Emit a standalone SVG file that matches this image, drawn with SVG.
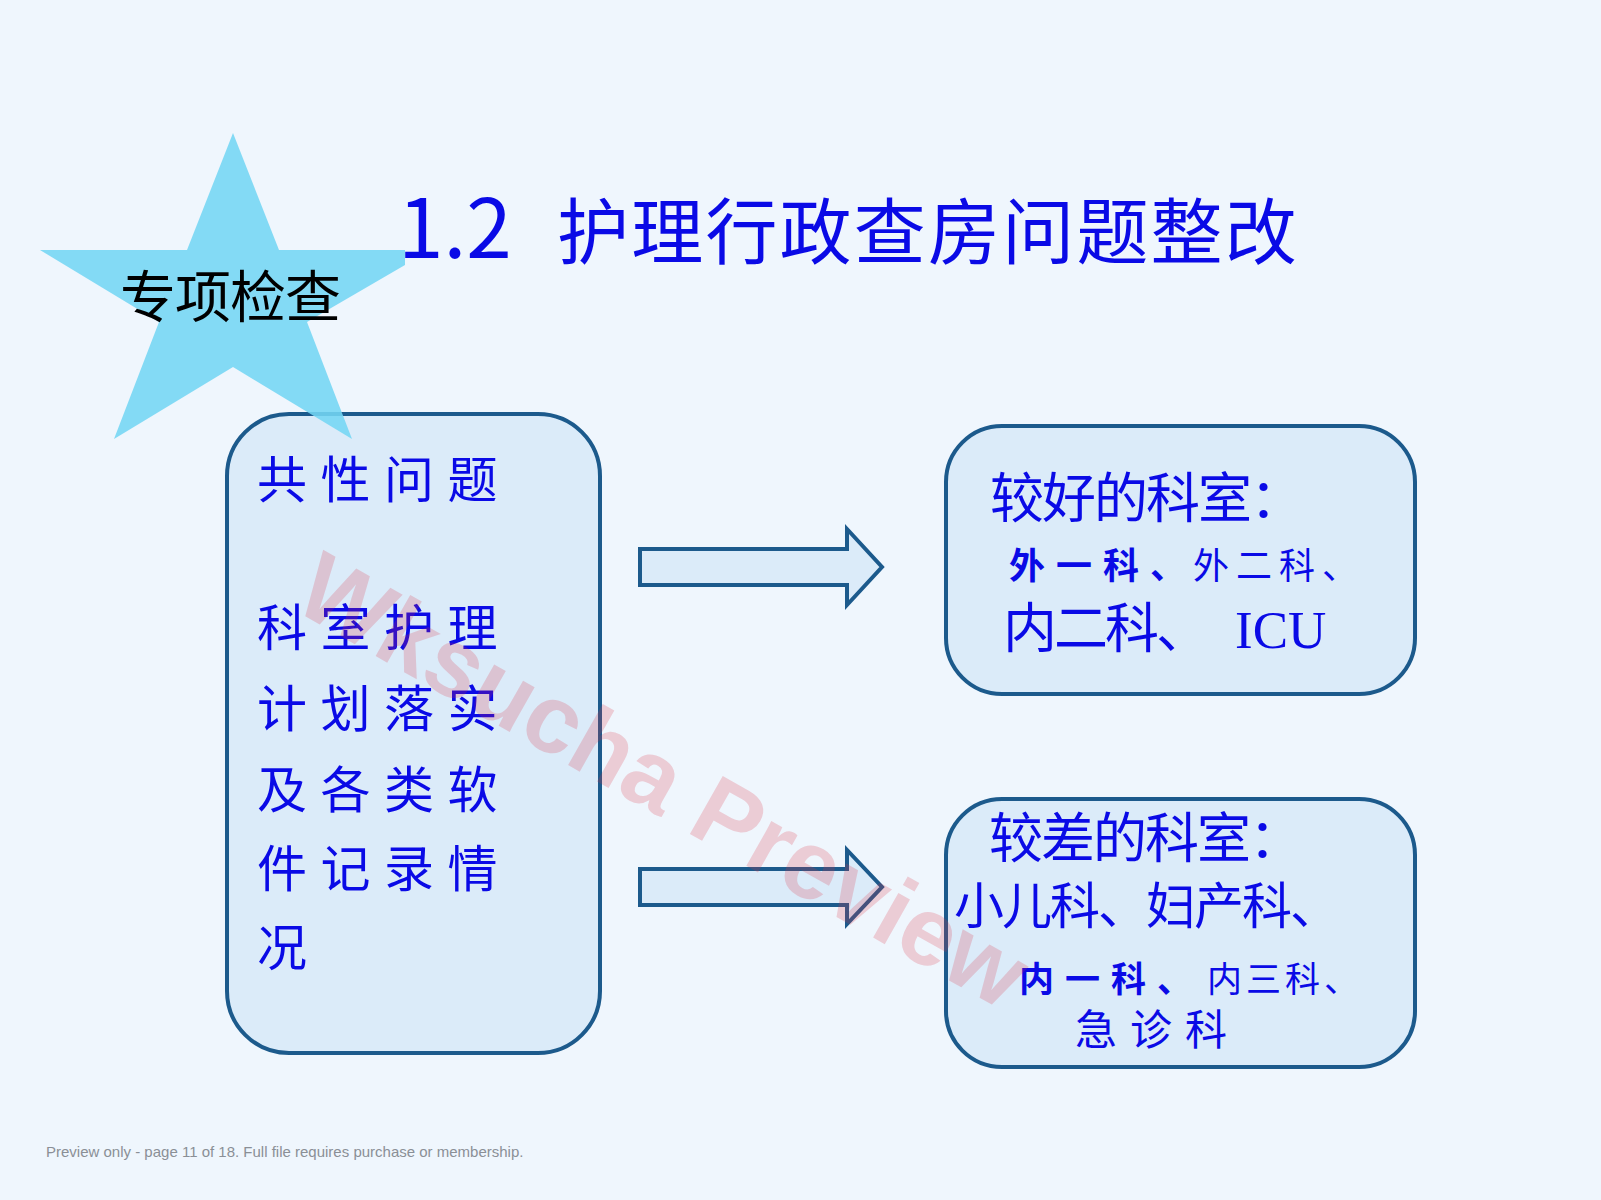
<svg xmlns="http://www.w3.org/2000/svg" width="1601" height="1200" viewBox="0 0 1601 1200">
<style>
.box{fill:#dbebf9;stroke:#1c5a8c;stroke-width:4}
.arrow{fill:#dbebf9;stroke:#1c5a8c;stroke-width:4;stroke-linejoin:miter}
.cjk{font-family:"Noto Sans CJK SC","Noto Sans",sans-serif;fill:#0a0ae6}
.b{font-weight:bold}
</style>
<rect x="0" y="0" width="1601" height="1200" fill="#eff6fd"/>
<g id="left-box">
<rect class="box" x="227" y="414" width="373" height="639" rx="62" ry="62"/>
<text class="cjk" font-size="50" letter-spacing="13.5">
<tspan x="257" y="498">共性问题</tspan>
<tspan x="257" y="646">科室护理</tspan>
<tspan x="257" y="727">计划落实</tspan>
<tspan x="257" y="808">及各类软</tspan>
<tspan x="257" y="887">件记录情</tspan>
<tspan x="257" y="966">况</tspan>
</text>
</g>
<g id="star">
<polygon points="233,133 279,250 405,250 405,265 307,322 352,439 233,367 114,439 159,322 40,250 187,250" fill="#74d6f4" fill-opacity="0.88"/>
<text x="120" y="317" font-family="'Noto Sans CJK SC','Noto Sans',sans-serif" font-size="56" letter-spacing="-1" fill="#000">专项检查</text>
</g>
<g id="title">
<text class="cjk" y="258"><tspan x="398" font-size="82">1.2</tspan><tspan x="557" font-size="72" letter-spacing="2.2">护理行政查房问题整改</tspan></text>
</g>
<g id="connectors">
<polygon class="arrow" points="640,549 847,549 847,529 882,567 847,605 847,585 640,585"/>
<polygon class="arrow" points="640,869 847,869 847,850 882,887 847,924 847,905 640,905"/>
</g>
<g id="good-box">
<rect class="box" x="946" y="426" width="469" height="268" rx="56" ry="56"/>
<text class="cjk" x="990" y="518" font-size="54" letter-spacing="-2">较好的科室：</text>
<text class="cjk" y="579" font-size="36"><tspan x="1009" class="b" letter-spacing="11">外一科、</tspan><tspan x="1193" letter-spacing="7">外二科、</tspan></text>
<text class="cjk" x="1003" y="648" font-size="54" letter-spacing="-3">内二科、</text>
<text x="1235" y="648" font-family="'Liberation Serif',serif" font-size="53" fill="#0a0ae6">ICU</text>
</g>
<g id="poor-box">
<rect class="box" x="946" y="799" width="469" height="268" rx="56" ry="56"/>
<text class="cjk" x="989" y="858" font-size="54" letter-spacing="-2">较差的科室：</text>
<text class="cjk" x="954" y="924" font-size="50" letter-spacing="-2">小儿科、妇产科、</text>
<text class="cjk" y="992" font-size="35"><tspan x="1019" class="b" letter-spacing="11">内一科、</tspan><tspan x="1207" letter-spacing="4">内三科、</tspan></text>
<text class="cjk" x="1075" y="1045" font-size="42" letter-spacing="13">急诊科</text>
</g>
<g id="watermark">
<text transform="translate(664,779) rotate(29.5)" x="0" y="35" text-anchor="middle" font-family="'Liberation Sans',sans-serif" font-weight="bold" font-size="97" fill="#e03040" fill-opacity="0.21">Wksucha Preview</text>
</g>
<text x="46" y="1157" font-family="'Liberation Sans',sans-serif" font-size="15" fill="#8a8f96">Preview only - page 11 of 18. Full file requires purchase or membership.</text>
</svg>
